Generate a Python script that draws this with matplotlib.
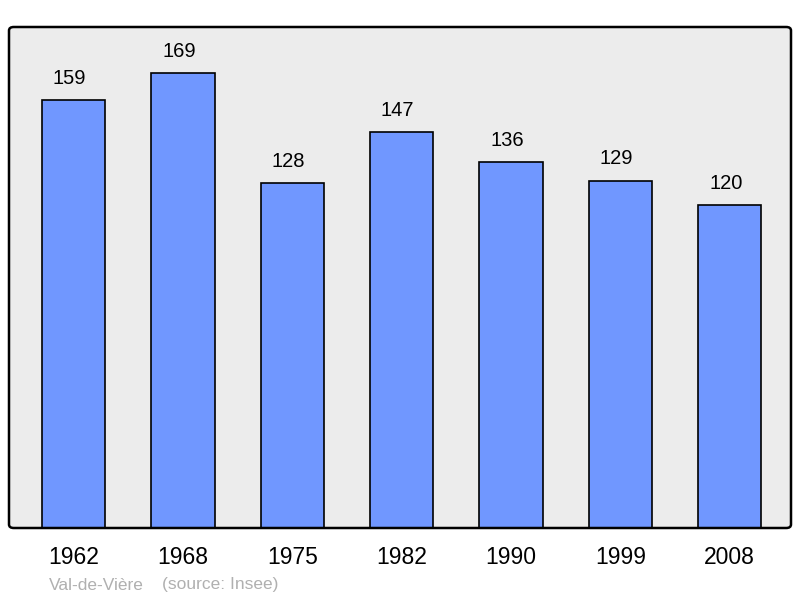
import matplotlib
matplotlib.use("Agg")
from matplotlib import pyplot as plt
from matplotlib.patches import FancyBboxPatch
from matplotlib.transforms import offset_copy

plt.rcParams["font.family"] = ["Liberation Sans", "DejaVu Sans"]

YEARS = ["1962", "1968", "1975", "1982", "1990", "1999", "2008"]
POPULATION = [159, 169, 128, 147, 136, 129, 120]
COMMUNE = "Val-de-Vière"
SOURCE = "(source: Insee)"

BAR_COLOR = "#7097ff"
BG_COLOR = "#ececec"

W, H = 800, 598
fig = plt.figure(figsize=(W / 100, H / 100), dpi=100)

# axes box in pixels: x 9..791, y 27..528
ax = fig.add_axes([9 / W, (H - 528) / H, 782 / W, 501 / H])
ax.set_facecolor(BG_COLOR)
for s in ax.spines.values():
    s.set_visible(False)

xs = list(range(len(YEARS)))
bars = ax.bar(xs, POPULATION, width=0.58, color=BAR_COLOR,
              edgecolor="black", linewidth=1.2, zorder=2)
# value labels sit a little left of the bar centre in the original
lbl_tr = offset_copy(ax.transData, fig=fig, x=-4, y=0, units="dots")
for x, v in zip(xs, POPULATION):
    ax.text(x, v + 8, str(v), ha="center", va="center", fontsize=14.5,
            transform=lbl_tr)

ax.set_xlim(-0.59, 6.56)
ax.set_ylim(0, 186)
ax.set_yticks([])
ax.set_xticks(xs)
ax.set_xticklabels(YEARS, fontsize=16.5)
ax.tick_params(axis="x", length=0, pad=13)

# rounded frame around the plot area
frame = FancyBboxPatch((9 / W, (H - 528) / H), 782 / W, 501 / H,
                       boxstyle="round,pad=0,rounding_size=0.006",
                       transform=fig.transFigure, facecolor="none",
                       edgecolor="black", linewidth=1.8, zorder=5)
fig.patches.append(frame)

fig.text(49 / W, 1 - 585 / H, COMMUNE, color="#b0b0b0", fontsize=12.5, va="center")
fig.text(162 / W, 1 - 585 / H, SOURCE, color="#b0b0b0", fontsize=12.5, va="center")

fig.savefig("out.png", dpi=100)
